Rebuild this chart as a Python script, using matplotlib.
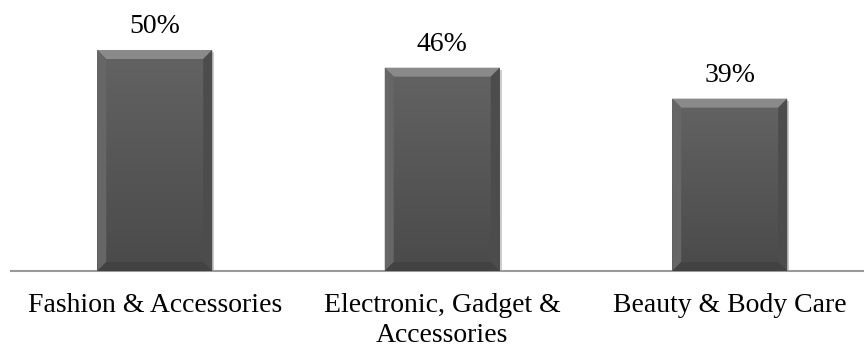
import numpy as np
import matplotlib
matplotlib.use("Agg")
import matplotlib.pyplot as plt
from matplotlib.patches import Polygon
import matplotlib.patheffects as pe

# data
categories = ["Fashion & Accessories", "Electronic, Gadget &\nAccessories", "Beauty & Body Care"]
shares = [50, 46, 39]
value_labels = ["50%", "46%", "39%"]

plt.rcParams['font.family'] = ['Liberation Serif', 'DejaVu Serif']

fig = plt.figure(figsize=(8.64, 3.47), dpi=100)
ax = fig.add_axes([11 / 864, 76 / 347, 862.5 / 864, 271 / 347])

x = np.arange(len(categories))
ax.set_xlim(-0.5, len(categories) - 0.5)
ax.set_ylim(0, 271 / 4.42)

bars = ax.bar(x, shares, width=0.40, color='#575757', zorder=2,
              path_effects=[pe.SimplePatchShadow(offset=(1.5, -1.5), shadow_rgbFace='#9a9a9a', alpha=0.5),
                            pe.Normal()])

# pixel -> data sizes for the bevel
px_x = 1.0 / (ax.get_position().width * 864 / 3.0)
px_y = ax.get_ylim()[1] / 271
bev = 9

grad = np.linspace(0, 1, 256).reshape(-1, 1)
cmap = matplotlib.colors.LinearSegmentedColormap.from_list('g', ['#4a4a4a', '#636363'])
for b in bars:
    x0, w, h = b.get_x(), b.get_width(), b.get_height()
    x1 = x0 + w
    dx, dy = bev * px_x, bev * px_y
    # face gradient
    im = ax.imshow(grad, extent=(x0, x1, 0, h), cmap=cmap, origin='lower', aspect='auto', zorder=3)
    im.set_clip_path(b)
    top = Polygon([(x0, h), (x1, h), (x1 - dx, h - dy), (x0 + dx, h - dy)], closed=True,
                  facecolor='#8a8a8a', edgecolor='none', zorder=4)
    left = Polygon([(x0, h), (x0 + dx, h - dy), (x0 + dx, dy), (x0, 0)], closed=True,
                   facecolor='#666666', edgecolor='none', zorder=4)
    right = Polygon([(x1, h), (x1 - dx, h - dy), (x1 - dx, dy), (x1, 0)], closed=True,
                    facecolor='#4c4c4c', edgecolor='none', zorder=4)
    bottom = Polygon([(x0, 0), (x1, 0), (x1 - dx, dy), (x0 + dx, dy)], closed=True,
                     facecolor='#424242', edgecolor='none', zorder=4)
    for p in (top, left, right, bottom):
        ax.add_patch(p)

for xi, v, lab in zip(x, shares, value_labels):
    ax.annotate(lab, (xi, v), xytext=(0, 8), textcoords='offset points',
                ha='center', va='bottom', fontsize=20, color='#000000')

for s in ['top', 'right', 'left']:
    ax.spines[s].set_visible(False)
ax.spines['bottom'].set_color('#9a9a9a')
ax.spines['bottom'].set_linewidth(1.5)
ax.set_yticks([])
ax.set_xticks(x)
ax.set_xticklabels(categories, fontsize=20, linespacing=1.24)
ax.tick_params(axis='x', length=0, pad=16)

fig.savefig("out.png", dpi=100)
